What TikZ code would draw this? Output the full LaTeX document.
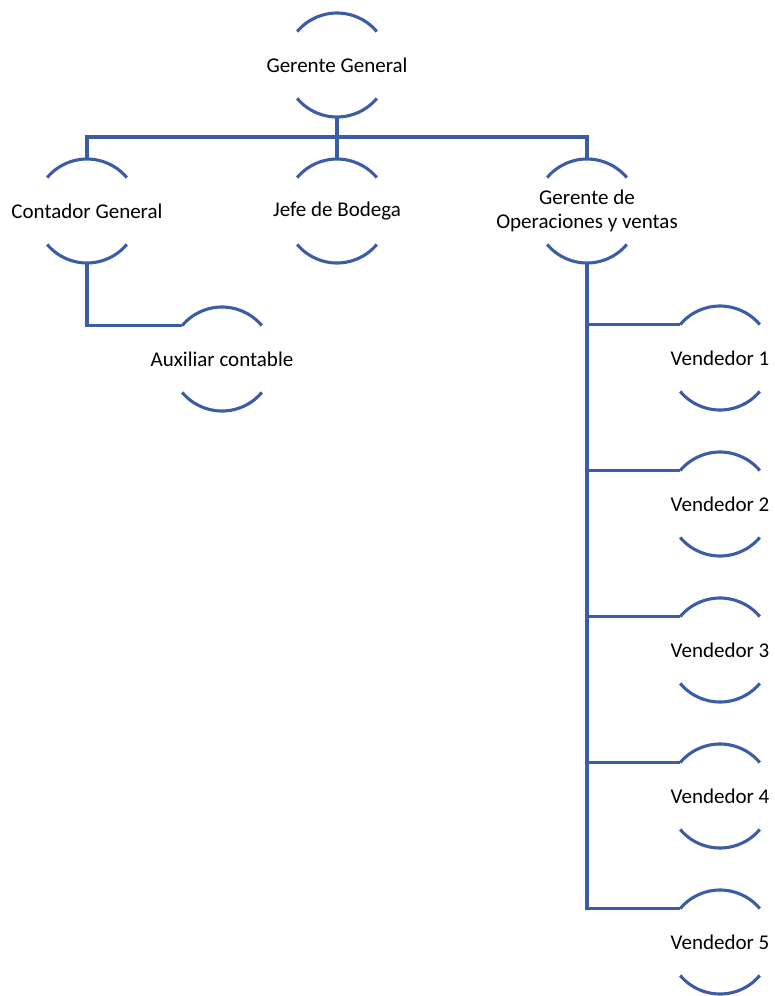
\documentclass[tikz,border=0pt]{standalone}
\usepackage{fontspec}
\setmainfont{Carlito}
\definecolor{orgblue}{HTML}{3B5DA6}
\tikzset{
  ring/.style={circle, minimum size=104pt, inner sep=0pt, outer sep=0pt},
  label/.style={font=\fontsize{21}{24.5}\selectfont, align=center, inner sep=0pt},
  wire/.style={draw=orgblue, line width=3.1pt},
}
% open circle: only the top and bottom arcs are drawn
\newcommand{\halfring}[1]{%
  \draw[wire] (#1.140) arc (140:40:52pt);
  \draw[wire] (#1.220) arc (220:320:52pt);
}
\begin{document}
\begin{tikzpicture}[x=1pt, y=1pt, line join=miter]
\useasboundingbox (0,0) rectangle (775,-996);

% rings
\node[ring] (gg) at (337,-65) {};
\node[ring] (cg) at (87,-211) {};
\node[ring] (jb) at (337,-211) {};
\node[ring] (og) at (587,-211) {};
\node[ring] (ax) at (222,-359) {};
\node[ring] (v1) at (720,-358) {};
\node[ring] (v2) at (720,-504) {};
\node[ring] (v3) at (720,-650) {};
\node[ring] (v4) at (720,-796) {};
\node[ring] (v5) at (720,-942) {};

\foreach \n in {gg,cg,jb,og,ax,v1,v2,v3,v4,v5}{\halfring{\n}}

% texts
\node[label] at (gg) {Gerente General};
\node[label] at (cg) {Contador General};
\node[label] at (jb) {Jefe de Bodega};
\node[label] at (og) {Gerente de\\Operaciones y ventas};
\node[label] at (ax) {Auxiliar contable};
\node[label] at (v1) {Vendedor 1};
\node[label] at (v2) {Vendedor 2};
\node[label] at (v3) {Vendedor 3};
\node[label] at (v4) {Vendedor 4};
\node[label] at (v5) {Vendedor 5};

% connectors
\coordinate (bar) at (337,-137);
\draw[wire] (gg.south) -- (jb.north);
\draw[wire] (cg.north) |- (bar) -| (og.north);
\draw[wire] (cg.south) |- (ax.140);
\foreach \n in {v1,v2,v3,v4,v5}{\draw[wire] (og.south) |- (\n.140);}
\end{tikzpicture}
\end{document}
